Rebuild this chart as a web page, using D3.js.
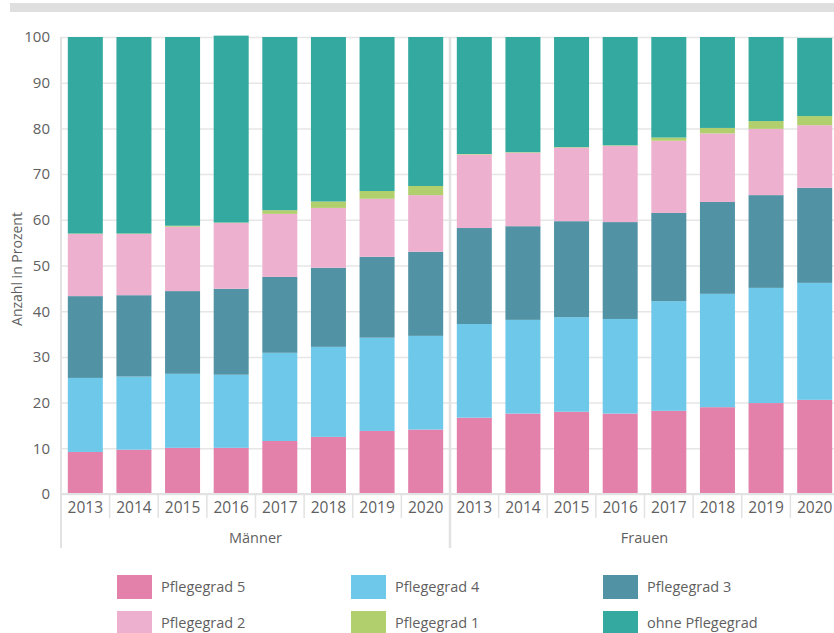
<!DOCTYPE html>
<html>
<head>
<meta charset="utf-8">
<script src="https://cdn.jsdelivr.net/npm/d3@7"></script>
<style>
  body { margin: 0; background: #fff; }
  svg { display: block; font-family: "Open Sans", sans-serif; }
</style>
</head>
<body>
<div id="chart"></div>
<script>
// categories
const years = ["2013", "2014", "2015", "2016", "2017", "2018", "2019", "2020"];
const groups = ["Männer", "Frauen"];
const yTicks = [0, 10, 20, 30, 40, 50, 60, 70, 80, 90, 100];

// series values in percent: Männer 2013-2020, then Frauen 2013-2020
const pflegegrad5 = [9.2, 9.7, 10.1, 10.1, 11.6, 12.5, 13.8, 14.1, 16.7, 17.6, 18.0, 17.6, 18.2, 19.0, 19.9, 20.6];
const pflegegrad4 = [16.2, 16.0, 16.2, 16.0, 19.3, 19.7, 20.4, 20.5, 20.5, 20.5, 20.7, 20.7, 24.0, 24.8, 25.2, 25.6];
const pflegegrad3 = [17.9, 17.8, 18.1, 18.8, 16.6, 17.3, 17.7, 18.4, 21.0, 20.5, 21.0, 21.2, 19.3, 20.1, 20.3, 20.8];
const pflegegrad2 = [13.6, 13.4, 14.1, 14.4, 13.8, 13.1, 12.7, 12.4, 16.1, 16.1, 16.1, 16.7, 15.8, 15.0, 14.5, 13.7];
const pflegegrad1 = [0.1, 0.1, 0.2, 0.1, 0.8, 1.4, 1.7, 2.0, 0.1, 0.1, 0.1, 0.1, 0.7, 1.2, 1.7, 2.0];
const ohnePflegegrad = [43.0, 43.0, 41.3, 40.9, 37.9, 36.0, 33.7, 32.6, 25.6, 25.2, 24.1, 23.7, 22.0, 19.9, 18.4, 17.1];

const seriesNames = ["Pflegegrad 5", "Pflegegrad 4", "Pflegegrad 3", "Pflegegrad 2", "Pflegegrad 1", "ohne Pflegegrad"];
const seriesValues = [pflegegrad5, pflegegrad4, pflegegrad3, pflegegrad2, pflegegrad1, ohnePflegegrad];
const colors = ["#e381ab", "#6dc8e9", "#5193a5", "#edb1cf", "#b1cf6c", "#33a9a0"];

// table for the stack
let rows = [];
groups.forEach((g, gi) => {
  years.forEach((yr, yi) => {
    let row = {key: g + "-" + yr, group: g, year: yr};
    seriesNames.forEach((s, si) => { row[s] = seriesValues[si][gi * years.length + yi]; });
    rows.push(row);
  });
});

const w = 834, h = 633;
const plotLeft = 61, plotRight = 839, plotTop = 37, plotBottom = 494;

const svg = d3.select("#chart").append("svg")
  .attr("width", w)
  .attr("height", h);

// grey bar on top
svg.append("rect")
  .attr("x", 10).attr("y", 3)
  .attr("width", w - 10).attr("height", 9)
  .attr("fill", "#dfdfdf");

const x = d3.scaleBand()
  .domain(rows.map(d => d.key))
  .range([plotLeft, plotRight])
  .paddingInner(0.28)
  .paddingOuter(0.14);

const y = d3.scaleLinear()
  .domain([0, 100])
  .range([plotBottom, plotTop]);

// gridlines
svg.append("g")
  .attr("class", "grid")
  .attr("transform", `translate(${plotLeft},0)`)
  .call(d3.axisLeft(y).tickValues(yTicks).tickSize(-(plotRight - plotLeft)).tickFormat(""))
  .call(g => g.select(".domain").remove())
  .call(g => g.selectAll("line").attr("stroke", "#e6e6e6").attr("stroke-width", 1.5));

// y tick labels
svg.append("g")
  .attr("transform", `translate(${plotLeft},0)`)
  .call(d3.axisLeft(y).tickValues(yTicks).tickSize(0).tickPadding(11))
  .call(g => g.select(".domain").remove())
  .call(g => g.selectAll("text")
    .attr("font-family", "'Open Sans', sans-serif")
    .attr("font-size", "15px")
    .attr("fill", "#5f5f5f"));

svg.append("text")
  .attr("transform", `translate(22,269) rotate(-90)`)
  .attr("text-anchor", "middle")
  .attr("font-size", "14px")
  .attr("fill", "#5f5f5f")
  .text("Anzahl in Prozent");

// stacked bars
const stack = d3.stack().keys(seriesNames);
const layers = stack(rows);

svg.append("g").selectAll("g")
  .data(layers)
  .enter()
  .append("g")
  .attr("fill", (d, i) => colors[i])
  .selectAll("rect")
  .data(d => d)
  .enter()
  .append("rect")
  .attr("x", d => x(d.data.key))
  .attr("y", d => y(d[1]))
  .attr("width", x.bandwidth())
  .attr("height", d => y(d[0]) - y(d[1]));

// x axis lines
const step = x.step();
const firstEdge = x(rows[0].key) - step * x.paddingOuter();
const lineColor = "#e2e2e2";

svg.append("line")
  .attr("x1", plotLeft).attr("x2", plotRight)
  .attr("y1", plotBottom).attr("y2", plotBottom)
  .attr("stroke", lineColor).attr("stroke-width", 2);

// left axis line
svg.append("line")
  .attr("x1", plotLeft).attr("x2", plotLeft)
  .attr("y1", plotTop).attr("y2", plotBottom + 54)
  .attr("stroke", lineColor).attr("stroke-width", 2);

// separators between years
rows.forEach((d, i) => {
  if (i === 0) return;
  let sx = firstEdge + i * step;
  let isGroup = i % years.length === 0;
  svg.append("line")
    .attr("x1", sx).attr("x2", sx)
    .attr("y1", isGroup ? plotTop : plotBottom)
    .attr("y2", isGroup ? plotBottom + 54 : plotBottom + 24)
    .attr("stroke", lineColor)
    .attr("stroke-width", isGroup ? 2.5 : 1.5);
});

// year labels
svg.append("g")
  .attr("transform", `translate(0,${plotBottom})`)
  .call(d3.axisBottom(x).tickSize(0).tickPadding(8).tickFormat((d, i) => rows[i].year))
  .call(g => g.select(".domain").remove())
  .call(g => g.selectAll("text")
    .attr("font-family", "'Open Sans', sans-serif")
    .attr("font-size", "15.5px")
    .attr("fill", "#5f5f5f"));

// group labels
groups.forEach((g, gi) => {
  let gx = firstEdge + (gi * years.length + years.length / 2) * step;
  svg.append("text")
    .attr("x", gx)
    .attr("y", plotBottom + 49)
    .attr("text-anchor", "middle")
    .attr("font-size", "14.5px")
    .attr("fill", "#5f5f5f")
    .text(g);
});

// legend
const legendCols = [117, 351, 603];
const legendRows = [575, 611];
const legend = svg.append("g").selectAll("g")
  .data(seriesNames)
  .enter()
  .append("g")
  .attr("transform", (d, i) => `translate(${legendCols[i % 3]},${legendRows[Math.floor(i / 3)]})`);

legend.append("rect")
  .attr("width", 35)
  .attr("height", 24)
  .attr("fill", (d, i) => colors[i]);

legend.append("text")
  .attr("x", 44)
  .attr("y", 12)
  .attr("dy", "0.35em")
  .attr("font-size", "14.5px")
  .attr("fill", "#5f5f5f")
  .text(d => d);
</script>
</body>
</html>
